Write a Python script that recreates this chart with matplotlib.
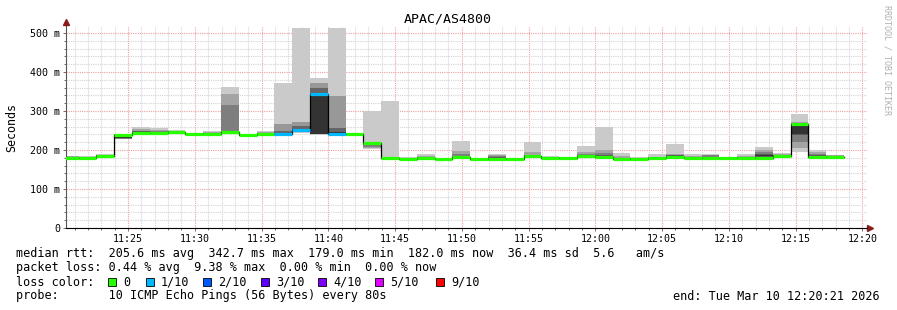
import numpy as np
import matplotlib
matplotlib.use('Agg')
import matplotlib.pyplot as plt
import matplotlib.dates as mdates
from matplotlib.ticker import MultipleLocator, FuncFormatter
from datetime import datetime, timedelta

# --- data (ms), one row per 80 s step ---
t0 = datetime(2026, 3, 10, 11, 19, 58)
step = timedelta(seconds=80)
x_start = datetime(2026, 3, 10, 11, 20, 21)
x_end = datetime(2026, 3, 10, 12, 20, 21)

median = [179, 179, 185, 239, 243, 243, 247, 241, 241, 245, 239, 240, 240, 252, 343,
          240, 241, 217, 179, 178, 179, 178, 182, 178, 178, 178, 184, 180, 180, 184,
          182, 178, 178, 179, 183, 179, 179, 179, 179, 180, 184, 266, 183, 182]

loss = [0] * 12 + [1, 1, 1, 1] + [0] * 28

nan = np.nan
pings = [
    [179, 179, 179, 179, 180, 182, 183, 183, 184, 184],
    [178, 178, 179, 179, 179, 179, 180, 181, 182, 184],
    [184, 184, 185, 185, 185, 185, 186, 187, 188, 189],
    [227, 228, 229, 230, 232, 236, 238, 240, 241, 242],
    [240, 241, 242, 243, 244, 246, 248, 249, 255, 259],
    [241, 242, 242, 243, 243, 244, 246, 249, 252, 256],
    [245, 245, 246, 247, 247, 248, 248, 249, 250, 251],
    [240, 240, 241, 241, 241, 241, 242, 242, 243, 243],
    [239, 240, 240, 241, 241, 242, 243, 244, 247, 250],
    [241, 242, 243, 244, 245, 246, 247, 315, 344, 361],
    [238, 238, 239, 239, 239, 240, 240, 241, 241, 242],
    [239, 239, 240, 240, 240, 241, 242, 243, 245, 248],
    [239, 240, 240, 240, 241, 242, 250, 267, 372, nan],
    [244, 245, 246, 248, 252, 255, 262, 271, 513, nan],
    [239, 240, 241, 242, 341, 343, 358, 373, 384, nan],
    [238, 239, 240, 240, 240, 245, 257, 338, 513, nan],
    [240, 240, 241, 241, 241, 241, 242, 242, 243, 244],
    [202, 205, 208, 212, 216, 218, 219, 220, 221, 300],
    [178, 178, 178, 179, 179, 179, 179, 180, 181, 326],
    [177, 177, 178, 178, 178, 178, 178, 179, 179, 181],
    [178, 178, 179, 179, 179, 179, 180, 182, 184, 190],
    [177, 178, 178, 178, 178, 178, 179, 179, 180, 180],
    [179, 180, 181, 181, 182, 183, 185, 190, 197, 223],
    [177, 177, 178, 178, 178, 178, 178, 179, 179, 179],
    [177, 178, 178, 178, 178, 179, 181, 184, 188, 190],
    [177, 177, 178, 178, 178, 178, 178, 179, 179, 179],
    [180, 181, 182, 183, 184, 185, 186, 188, 195, 220],
    [178, 179, 179, 180, 180, 180, 181, 182, 183, 184],
    [179, 179, 180, 180, 180, 180, 181, 181, 182, 182],
    [180, 181, 182, 183, 184, 185, 187, 190, 196, 210],
    [179, 180, 181, 181, 182, 183, 186, 192, 200, 259],
    [177, 177, 178, 178, 178, 178, 179, 180, 184, 192],
    [177, 177, 178, 178, 178, 179, 179, 179, 180, 181],
    [178, 178, 178, 179, 179, 179, 180, 181, 183, 189],
    [179, 180, 181, 182, 183, 184, 186, 188, 190, 215],
    [178, 178, 178, 179, 179, 179, 180, 181, 184, 189],
    [178, 178, 179, 179, 179, 180, 182, 186, 187, 190],
    [178, 178, 179, 179, 179, 179, 179, 180, 180, 180],
    [178, 178, 178, 179, 179, 179, 180, 181, 184, 189],
    [178, 179, 180, 182, 185, 187, 190, 195, 200, 207],
    [182, 183, 183, 184, 184, 185, 186, 188, 190, 193],
    [196, 206, 221, 238, 240, 262, 266, 268, 273, 292],
    [181, 182, 182, 183, 183, 184, 186, 190, 195, 199],
    [181, 181, 182, 182, 182, 182, 183, 184, 186, 187],
]

loss_labels = ['0', '1/10', '2/10', '3/10', '4/10', '5/10', '9/10']
loss_colors = ['#26ff00', '#00b8ff', '#0059ff', '#5e00ff', '#7e00ff', '#dd00ff', '#ff0000']

stats_rtt = ['205.6 ms avg', '342.7 ms max', '179.0 ms min', '182.0 ms now', '36.4 ms sd',
             '5.6   am/s']
stats_loss = ['0.44 % avg', '9.38 % max', '0.00 % min', '0.00 % now']

# --- figure ---
W, H = 897, 310
fig = plt.figure(figsize=(W / 100, H / 100), dpi=100, facecolor='white')
ax = fig.add_axes([66 / W, (H - 228) / H, (867 - 66) / W, (228 - 26) / H])
mono = 'DejaVu Sans Mono'

edges = mdates.date2num([t0 + i * step for i in range(len(median) + 1)])
width = edges[1] - edges[0]

def gray(frac):
    g = int(round(0xca + (0x33 - 0xca) * frac))
    return '#%02x%02x%02x' % (g, g, g)

# smoke
for k, row in enumerate(pings):
    p = np.array([v for v in row if not np.isnan(v)])
    nb = len(p) // 2
    for j in range(nb):
        lo, hi = p[j], p[len(p) - 1 - j]
        c = gray(j / (nb - 1) if nb > 1 else 1)
        ax.bar(edges[k], hi - lo, bottom=lo, width=width, align='edge',
               color=c, linewidth=0, zorder=1)

# median: thin black step + loss colored segments
ax.step(edges, list(median) + [median[-1]], where='post', color='black', lw=0.9, zorder=3)
for k, m in enumerate(median):
    ax.hlines(m, edges[k], edges[k + 1], colors=loss_colors[loss[k]], lw=2.3,
              zorder=4, capstyle='butt')

ax.set_xlim(mdates.date2num(x_start), mdates.date2num(x_end))
ax.set_ylim(0, 518)

ax.xaxis.set_major_locator(mdates.MinuteLocator(byminute=range(0, 60, 5)))
ax.xaxis.set_minor_locator(mdates.MinuteLocator())
ax.xaxis.set_major_formatter(mdates.DateFormatter('%H:%M'))
ax.yaxis.set_major_locator(MultipleLocator(100))
ax.yaxis.set_minor_locator(MultipleLocator(20))
ax.yaxis.set_major_formatter(FuncFormatter(lambda v, p: '0' if v == 0 else '%d m' % v))

ax.set_axisbelow(True)
ax.grid(which='minor', color='#d4d4d4', lw=0.8, ls=(0, (1, 1)))
ax.grid(which='major', color='#f0a0a0', lw=0.8, ls=(0, (1, 1)))

for s in ['top', 'right']:
    ax.spines[s].set_visible(False)
ax.spines['left'].set_color('#555555')
ax.spines['bottom'].set_color('black')
ax.tick_params(which='both', length=2, width=0.6, color='#555555',
               labelsize=7.2, pad=2)
ax.tick_params(which='minor', length=1.5)
for lab in ax.get_xticklabels() + ax.get_yticklabels():
    lab.set_fontfamily(mono)

# axis arrows
ax.plot([1.004], [0], marker='>', color='#8b1a1a', ms=4, transform=ax.transAxes, clip_on=False)
ax.plot([0], [1.02], marker='^', color='#8b1a1a', ms=4, transform=ax.transAxes, clip_on=False)

ax.set_ylabel('Seconds', family=mono, fontsize=8.4, labelpad=9)
fig.text(448 / W, 1 - 19 / H, 'APAC/AS4800', ha='center', va='center', family=mono, fontsize=9.5)
fig.text(887 / W, 1 - 5 / H, 'RRDTOOL / TOBI OETIKER', rotation=270, ha='center', va='top',
         family=mono, fontsize=6, color='#b0b0b0')

# legend block
fs = 8.5
def txt(x, y, s, **kw):
    fig.text(x / W, 1 - y / H, s, ha='left', va='center', family=mono, fontsize=fs, **kw)

txt(16, 254, 'median rtt:  ' + '  '.join(stats_rtt))
txt(16, 268, 'packet loss: ' + '  '.join(stats_loss))
txt(16, 282, 'loss color:')
sq_x = [108, 146, 203, 261, 318, 375, 436]
for x, lab, col in zip(sq_x, loss_labels, loss_colors):
    fig.patches.append(plt.Rectangle((x / W, 1 - 286 / H), 8 / W, 8 / H, transform=fig.transFigure,
                                     facecolor=col, edgecolor='black', lw=0.6))
    txt(x + 15, 282, lab)
txt(16, 296, 'probe:       10 ICMP Echo Pings (56 Bytes) every 80s')
fig.text(880 / W, 1 - 296 / H, 'end: Tue Mar 10 12:20:21 2026', ha='right', va='center',
         family=mono, fontsize=fs)

fig.savefig('out.png', dpi=100, facecolor='white')
